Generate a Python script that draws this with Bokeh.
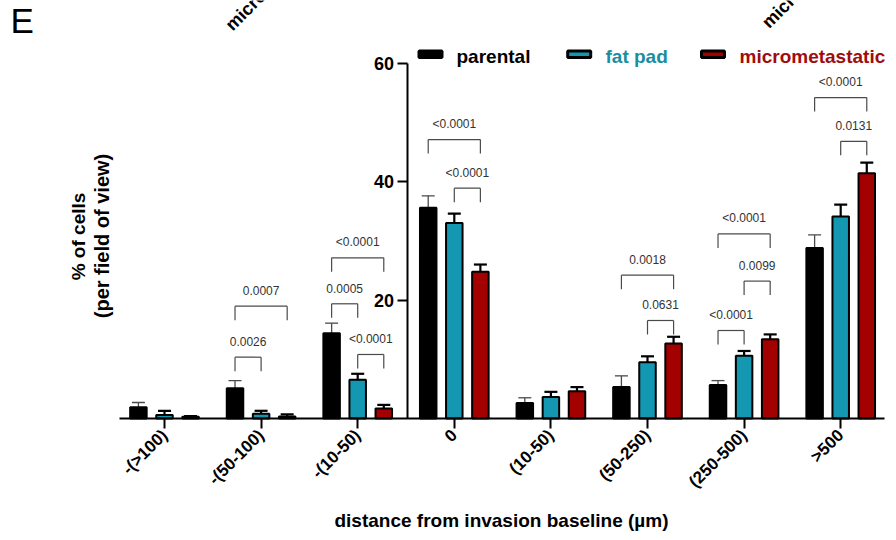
from math import pi
from bokeh.plotting import figure
from bokeh.models import Range1d, LinearAxis, FixedTicker
from bokeh.core.properties import value
from bokeh.embed import file_html
from bokeh.resources import INLINE

# ---------------- data ----------------
categories = ["-(>100)", "-(50-100)", "-(10-50)", "0", "(10-50)", "(50-250)", "(250-500)", ">500"]
series_names = ["parental", "fat pad", "micrometastatic"]

parental = [1.9, 5.1, 14.4, 35.6, 2.6, 5.3, 5.65, 28.8]
parental_sem = [0.8, 1.3, 1.7, 2.0, 0.9, 1.9, 0.75, 2.2]
fat_pad = [0.6, 0.8, 6.55, 33.0, 3.65, 9.5, 10.6, 34.1]
fat_pad_sem = [0.7, 0.5, 1.0, 1.6, 0.85, 1.0, 0.8, 2.0]
micromet = [0.3, 0.35, 1.7, 24.8, 4.6, 12.65, 13.4, 41.4]
micromet_sem = [0.1, 0.35, 0.6, 1.2, 0.7, 1.15, 0.8, 1.8]

y_ticks = [20, 40, 60]

# significance brackets: (category index, from series, to series, bracket level, p-value label)
bracket_group = [1, 1, 2, 2, 2, 3, 3, 5, 5, 6, 6, 6, 7, 7]
bracket_from = [0, 0, 0, 0, 1, 0, 1, 0, 1, 0, 1, 0, 0, 1]
bracket_to = [1, 2, 1, 2, 2, 2, 2, 2, 2, 2, 2, 1, 2, 2]
bracket_level = [10.35, 18.96, 19.37, 27.14, 10.81, 47.1, 38.9, 24.2, 16.55, 31.17, 23.2, 14.86, 54.2, 46.8]
bracket_label = ["0.0026", "0.0007", "0.0005", "<0.0001", "<0.0001", "<0.0001", "<0.0001",
                 "0.0018", "0.0631", "<0.0001", "0.0099", "<0.0001", "<0.0001", "0.0131"]

# ---------------- styling / layout ----------------
FONT = "Liberation Sans"
BLACK = "#000000"
TEAL = "#1497b1"
RED = "#a30000"
TEAL_TXT = "#1a8d9e"
RED_TXT = "#a00c0c"
GREY = "#4a4a4a"

W, H = 896, 540
X0, DX = 164.0, 96.6     # px of first category, px per category
Y0, DY = 418.0, 5.922    # px of value 0, px per unit


def ux(px):
    return (px - X0) / DX


def uy(py):
    return (Y0 - py) / DY


p = figure(width=W, height=H,
           x_range=Range1d(ux(0), ux(W)), y_range=Range1d(uy(H), uy(0)),
           x_axis_type=None, y_axis_type=None,
           toolbar_location=None, output_backend="svg", min_border=0)
p.outline_line_color = None
p.background_fill_color = "white"
p.border_fill_color = "white"

offsets = [-0.27, 0.0, 0.27]
bar_w = 16.5 / DX
cap_w = 13.0 / DX
series = [(parental, parental_sem, BLACK, GREY, 1.3),
          (fat_pad, fat_pad_sem, TEAL, BLACK, 2.2),
          (micromet, micromet_sem, RED, BLACK, 2.2)]

for k, (vals, sems, fill, wcol, wwid) in enumerate(series):
    xs = [i + offsets[k] for i in range(len(categories))]
    tops = [v + s for v, s in zip(vals, sems)]
    p.segment(x0=xs, y0=vals, x1=xs, y1=tops, line_color=wcol, line_width=wwid)
    p.segment(x0=[x - cap_w / 2 for x in xs], y0=tops, x1=[x + cap_w / 2 for x in xs], y1=tops,
              line_color=wcol, line_width=wwid)
    p.vbar(x=xs, top=vals, bottom=0, width=bar_w, fill_color=fill, line_color=BLACK, line_width=2)

# brackets
leg = 14.0 / DY
bx0, by0, bx1, by1, tx, ty = [], [], [], [], [], []
for g, a, b, lvl in zip(bracket_group, bracket_from, bracket_to, bracket_level):
    xa = g + offsets[a]
    xb = g + offsets[b]
    bx0 += [xa, xa, xb]
    by0 += [lvl - leg, lvl, lvl]
    bx1 += [xa, xb, xb]
    by1 += [lvl, lvl, lvl - leg]
    tx.append((xa + xb) / 2)
    ty.append(lvl + 15.5 / DY)
p.segment(x0=bx0, y0=by0, x1=bx1, y1=by1, line_color=GREY, line_width=1.2)
p.text(x=tx, y=ty, text=bracket_label, text_align="center", text_baseline="middle",
       text_font=value(FONT), text_font_size="12px", text_color="#333333")

# axes
xaxis = LinearAxis(fixed_location=0, bounds=(ux(119), ux(884)),
                   ticker=FixedTicker(ticks=list(range(len(categories)))),
                   major_label_overrides={i: c for i, c in enumerate(categories)})
xaxis.axis_line_width = 2
xaxis.major_tick_line_width = 2
xaxis.major_tick_out = 10
xaxis.major_tick_in = 0
xaxis.minor_tick_out = 0
xaxis.minor_tick_in = 0
xaxis.major_label_orientation = pi / 4
xaxis.major_label_standoff = 4
xaxis.major_label_text_font = FONT
xaxis.major_label_text_font_style = "bold"
xaxis.major_label_text_font_size = "17px"
xaxis.major_label_text_color = BLACK
p.add_layout(xaxis, "below")

yaxis = LinearAxis(fixed_location=ux(406.5), bounds=(0, 60), ticker=FixedTicker(ticks=y_ticks))
yaxis.axis_line_width = 2
yaxis.major_tick_line_width = 2
yaxis.major_tick_out = 10
yaxis.major_tick_in = 0
yaxis.minor_tick_out = 0
yaxis.minor_tick_in = 0
yaxis.major_label_standoff = 3
yaxis.major_label_text_font = FONT
yaxis.major_label_text_font_style = "bold"
yaxis.major_label_text_font_size = "18px"
yaxis.major_label_text_color = BLACK
p.add_layout(yaxis, "left")

# axis titles
p.text(x=[ux(78)], y=[uy(236)], text=["% of cells"], angle=pi / 2, text_align="center",
       text_baseline="middle", text_font=value(FONT), text_font_style="bold",
       text_font_size="19px", text_color=BLACK)
p.text(x=[ux(101)], y=[uy(235.5)], text=["(per field of view)"], angle=pi / 2, text_align="center",
       text_baseline="middle", text_font=value(FONT), text_font_style="bold",
       text_font_size="20px", text_color=BLACK)
p.text(x=[ux(501)], y=[uy(520)], text=["distance from invasion baseline (µm)"], text_align="center",
       text_baseline="middle", text_font=value(FONT), text_font_style="bold",
       text_font_size="19px", text_color=BLACK)

# legend
leg_box_x = [430, 578.7, 712.5]
leg_txt_x = [456, 605, 739]
p.rect(x=[ux(v) for v in leg_box_x], y=[uy(53.7)] * 3, width=23, height=6.5,
       width_units="screen", height_units="screen",
       fill_color=[BLACK, TEAL, RED], line_color=BLACK, line_width=3)
p.text(x=[ux(v) for v in leg_txt_x], y=[uy(55.5)] * 3, text=series_names,
       text_align="left", text_baseline="middle", text_font=value(FONT),
       text_font_style="bold", text_font_size="19px", text_color=[BLACK, TEAL_TXT, RED_TXT])

# panel letter and clipped labels of the panel above
p.text(x=[ux(10)], y=[uy(20)], text=["E"], text_align="left", text_baseline="middle",
       text_font=value(FONT), text_font_size="35px", text_color=BLACK)
p.text(x=[ux(228), ux(764.5)], y=[uy(27), uy(24.5)], text=["micrometastatic", "micrometastatic"],
       angle=pi / 4, text_align="left", text_baseline="middle", text_font=value(FONT),
       text_font_style="bold", text_font_size="18px", text_color=BLACK)

open("out.html", "w").write(file_html(p, INLINE))
